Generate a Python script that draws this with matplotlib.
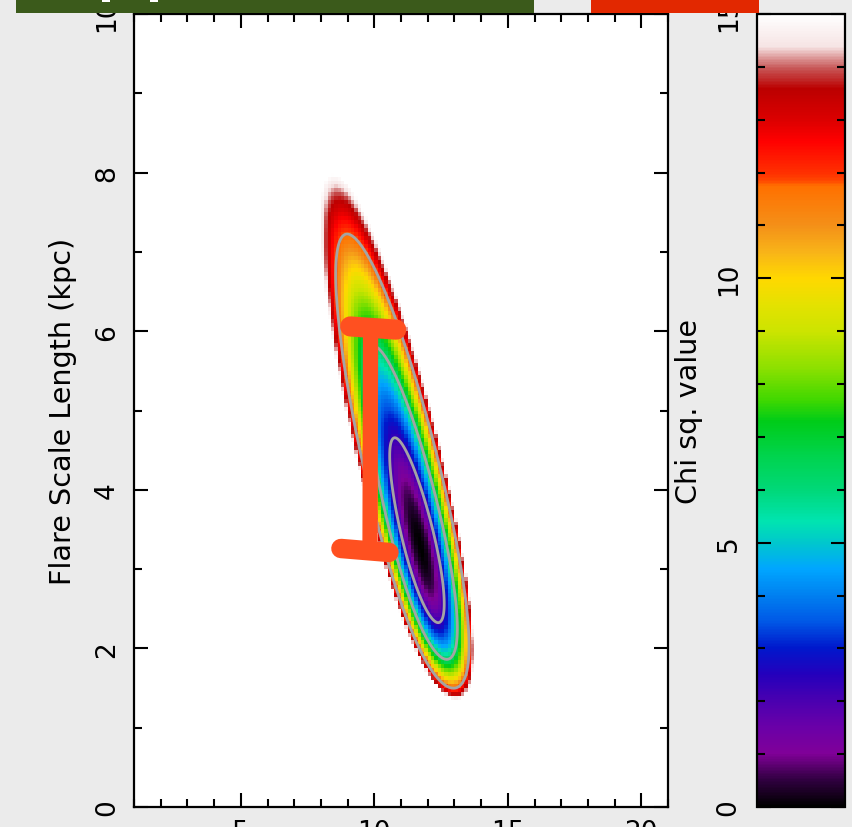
import numpy as np
import matplotlib
matplotlib.use('Agg')
import matplotlib.pyplot as plt
from matplotlib.colors import LinearSegmentedColormap
from matplotlib.patches import Rectangle
from matplotlib.ticker import MultipleLocator

# ---------------- data ----------------
# chi-square surface: best-fit point and widths of the valley
best_fit_x = 11.72
best_fit_y = 3.29          # kpc
log_width_y = 0.229        # width of valley in ln(y)
ridge_slope = -0.696       # dx/dy of the valley floor
width_x_base = 0.27
width_x_slope = 0.04
contour_levels = [2.30, 6.18, 11.8]
grid_dx = 0.125
grid_dy = 0.05

x_limits = [1, 21]
y_limits = [0, 10]
chi_limits = [0, 15]
x_ticks = [5, 10, 15, 20]
y_ticks = [0, 2, 4, 6, 8, 10]
cbar_ticks = [0, 5, 10, 15]

# hand-drawn orange range marker
marker_x = [9.86, 9.84]
marker_y = [6.03, 3.30]
cap_top_x = [9.10, 10.82]
cap_top_y = [6.06, 6.02]
cap_bot_x = [8.75, 10.55]
cap_bot_y = [3.26, 3.21]

# colour scale stops (chi value, colour)
cmap_values = [0.0, 0.5, 1.0, 1.5, 2.0, 2.5, 3.0, 3.5, 4.0, 4.5, 5.0, 5.4, 6.0,
               6.6, 7.3, 7.7, 8.3, 9.0, 9.5, 10.0, 10.5, 11.0, 11.75, 11.85,
               12.0, 12.6, 13.0, 13.6, 14.0, 14.4, 15.0]
cmap_colors = ['#000000', '#300040', '#800098', '#6a00a8', '#4a00b0', '#2400bc',
               '#0018cc', '#0058e6', '#0080f0', '#00a6ff', '#00c8cc', '#00e4b0',
               '#00d878', '#00d450', '#00cc18', '#40d800', '#8ce000', '#cce400',
               '#e4e200', '#ffd800', '#f8b418', '#f49018', '#ff7000', '#ff4800',
               '#ff3000', '#ff0000', '#dc0000', '#bb0000', '#c85a5a', '#f6e4e4',
               '#ffffff']

# ---------------- figure ----------------
W, H = 852, 828
plt.rcParams['font.family'] = ['DejaVu Sans']
fig = plt.figure(figsize=(W / 100, H / 100), dpi=100)
fig.patch.set_facecolor('#ebebeb')


def fx(px):
    return px / W


def fy(py):
    return 1 - py / H


ax = fig.add_axes([fx(134), fy(808), fx(668) - fx(134), fy(15) - fy(808)])
cax = fig.add_axes([fx(757), fy(808), fx(845) - fx(757), fy(15) - fy(808)])

cmap = LinearSegmentedColormap.from_list(
    'chi', list(zip(np.array(cmap_values) / chi_limits[1], cmap_colors)), N=512)
cmap.set_over('white')


def chi2(x, y):
    yy = np.clip(y, 1e-3, None)
    g = np.log(yy / best_fit_y) / log_width_y
    xr = best_fit_x + ridge_slope * (y - best_fit_y)
    sx = width_x_base + width_x_slope * y
    return g ** 2 + ((x - xr) / sx) ** 2


xe = np.arange(x_limits[0], x_limits[1] + grid_dx / 2, grid_dx)
ye = np.arange(y_limits[0], y_limits[1] + grid_dy / 2, grid_dy)
xc = 0.5 * (xe[:-1] + xe[1:])
yc = 0.5 * (ye[:-1] + ye[1:])
XC, YC = np.meshgrid(xc, yc)
Z = chi2(XC, YC)
mesh = ax.pcolormesh(xe, ye, Z, cmap=cmap, vmin=chi_limits[0], vmax=chi_limits[1],
                     shading='flat')

xf = np.linspace(x_limits[0], x_limits[1], 900)
yf = np.linspace(0.05, y_limits[1], 900)
XF, YF = np.meshgrid(xf, yf)
ax.contour(XF, YF, chi2(XF, YF), levels=contour_levels, colors='#a4a4a4',
           linewidths=2.0)

mk = dict(color='#ff5020', solid_capstyle='round', zorder=5)
ax.plot(marker_x, marker_y, lw=11, **mk)
ax.plot(cap_top_x, cap_top_y, lw=14.5, **mk)
ax.plot(cap_bot_x, cap_bot_y, lw=14, **mk)

ax.set_xlim(x_limits)
ax.set_ylim(y_limits)
ax.set_xticks(x_ticks)
ax.set_yticks(y_ticks)
ax.xaxis.set_minor_locator(MultipleLocator(1))
ax.yaxis.set_minor_locator(MultipleLocator(1))
for a in (ax, cax):
    a.tick_params(which='both', direction='in', top=True, right=True,
                  bottom=True, left=True, width=1.5, colors='black',
                  labelsize=19)
    a.tick_params(which='major', length=10)
    a.tick_params(which='minor', length=5.5)
    for s in a.spines.values():
        s.set_linewidth(1.6)
ax.tick_params(axis='y', which='major', pad=10)
ax.tick_params(axis='x', which='major', pad=9)
for lab in ax.get_yticklabels():
    lab.set_rotation(90)
    lab.set_va('center')
ax.set_ylabel('Flare Scale Length (kpc)', fontsize=20.6, labelpad=12)

cb = fig.colorbar(mesh, cax=cax, extend='neither')
cb.outline.set_linewidth(1.6)
cb.set_ticks(cbar_ticks)
cax.yaxis.set_minor_locator(MultipleLocator(1))
cax.yaxis.set_ticks_position('both')
cax.yaxis.set_label_position('left')
cax.yaxis.set_tick_params(labelleft=True, labelright=False)
cax.tick_params(which='both', direction='in', left=True, right=True,
                width=1.5)
cax.tick_params(which='major', length=10, pad=11)
cax.tick_params(which='minor', length=5.5)
for lab in cax.get_yticklabels():
    lab.set_rotation(90)
    lab.set_va('center')
cax.set_ylabel('Chi sq. value', fontsize=20.6, labelpad=9)

# decorative banners at the top edge, drawn on an overlay above everything
ov = fig.add_axes([0, 0, 1, 1], zorder=50)
ov.set_xlim(0, W)
ov.set_ylim(H, 0)
ov.set_axis_off()
ov.patch.set_visible(False)
ov.add_patch(Rectangle((16, 0), 534 - 16, 14, color='#3b5a1b', lw=0))
ov.add_patch(Rectangle((591, 0), 759 - 591, 14, color='#e22800', lw=0))
for x0, x1 in [(102, 110), (150, 158)]:
    ov.add_patch(Rectangle((x0, 0), x1 - x0, 3, color='white', lw=0))

fig.savefig('out.png', dpi=100, facecolor=fig.get_facecolor())
